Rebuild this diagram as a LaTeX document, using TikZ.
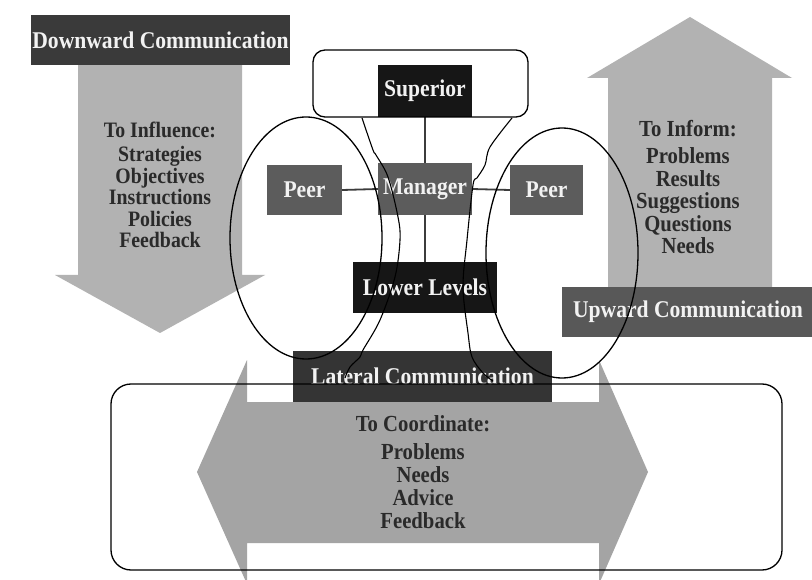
\documentclass[tikz,border=0pt]{standalone}
\usepackage{fontspec}
\setmainfont{Liberation Serif}[FakeStretch=0.9]
\definecolor{arrowgray}{HTML}{B2B2B2}
\definecolor{harrowgray}{HTML}{A4A4A4}
\definecolor{boxdark}{HTML}{3A3A3A}
\definecolor{boxblack}{HTML}{161616}
\definecolor{boxmid}{HTML}{5C5C5C}
\definecolor{textdark}{HTML}{2A2A2A}
\definecolor{linkgray}{HTML}{3C3C3C}
\tikzset{
  labelbox/.style={rectangle, inner sep=0pt, text=white!95!black,
    font=\bfseries\fontsize{24}{24}\selectfont},
  listtext/.style={align=center, inner sep=0pt, text=textdark,
    font=\bfseries\fontsize{22}{21.5}\selectfont},
  bigarrow/.style={fill=arrowgray, draw=none},
  outline/.style={draw=black, line width=1.3pt},
  link/.style={draw=linkgray, line width=1.8pt},
}
\begin{document}
\begin{tikzpicture}[x=1pt,y=-1pt]
\useasboundingbox (0,0) rectangle (812,580);
\fill[white] (0,0) rectangle (812,580);
\clip (0,0) rectangle (812,580);

% big arrows
\fill[bigarrow] (78,65) -- (242,65) -- (242,275) -- (265,275) -- (160,333)
  -- (55,275) -- (78,275) -- cycle;
\fill[bigarrow] (608,287) -- (608,78) -- (587,78) -- (690,17) -- (792,78)
  -- (772,78) -- (772,287) -- cycle;
\fill[bigarrow, fill=harrowgray] (197,472) -- (247,360) -- (247,402) -- (599,402)
  -- (599,360) -- (648,472) -- (599,584) -- (599,543) -- (247,543)
  -- (247,584) -- cycle;

% labelled bars
\node[labelbox, fill=boxdark, minimum width=259pt, minimum height=50pt]
  (down) at (160.5,40) {Downward Communication};
\node[labelbox, fill=boxdark!85!white, minimum width=252pt, minimum height=50pt]
  (up) at (688,312) {Upward Communication};
\node[labelbox, fill=boxdark!90!black, minimum width=259pt, minimum height=51pt]
  (lat) at (422.5,376.5) {Lateral Communication};

% list texts
\node[listtext] (influence) at (160,185)
  {To Influence:\\[3pt]Strategies\\Objectives\\Instructions\\Policies\\Feedback};
\node[listtext, font=\bfseries\fontsize{23}{22.5}\selectfont] (inform) at (688,187)
  {To Inform:\\[5pt]Problems\\Results\\Suggestions\\Questions\\Needs};
\node[listtext, font=\bfseries\fontsize{23}{23}\selectfont] (coord) at (423,472)
  {To Coordinate:\\[5pt]Problems\\Needs\\Advice\\Feedback};

% organisation chart
\node[labelbox, fill=boxblack, minimum width=94pt, minimum height=52pt]
  (sup) at (425,91) {Superior};
\node[labelbox, fill=boxmid, minimum width=94pt, minimum height=52pt]
  (mgr) at (425,189) {Manager};
\node[labelbox, fill=boxmid, minimum width=75pt, minimum height=50pt]
  (peerL) at (304.5,190) {Peer};
\node[labelbox, fill=boxmid, minimum width=73pt, minimum height=50pt]
  (peerR) at (546.5,190) {Peer};
\node[labelbox, fill=boxblack, minimum width=144pt, minimum height=51pt]
  (low) at (425,287.5) {Lower Levels};

\draw[link] (sup.south) -- (mgr.north);
\draw[link] (mgr.south) -- (low.north);
\draw[link] (peerL.east) -- (mgr.west);
\draw[link] (mgr.east) -- (peerR.west);

% hand-drawn marks
\draw[outline, rounded corners=12pt] (313,50) rectangle (528,117);
\draw[outline, rounded corners=20pt] (111,384) rectangle (782,570);
\draw[outline] (306,238) ellipse [x radius=76, y radius=121];
\draw[outline] (562,253) ellipse [x radius=76, y radius=125];
\draw[outline, line width=1.1pt] plot[smooth, tension=0.55] coordinates {
  (362,118) (373,150) (376,155) (388,177) (398,217) (400,240) (395,277)
  (380,320) (363,350) (360,357) (350,367) (345,378)};
\draw[outline, line width=1.1pt] plot[smooth, tension=0.55] coordinates {
  (512,118) (490,147) (485,165) (477,178) (473,185) (467,240) (463,287)
  (468,333) (472,357) (483,373) (493,381)};
\end{tikzpicture}
\end{document}
